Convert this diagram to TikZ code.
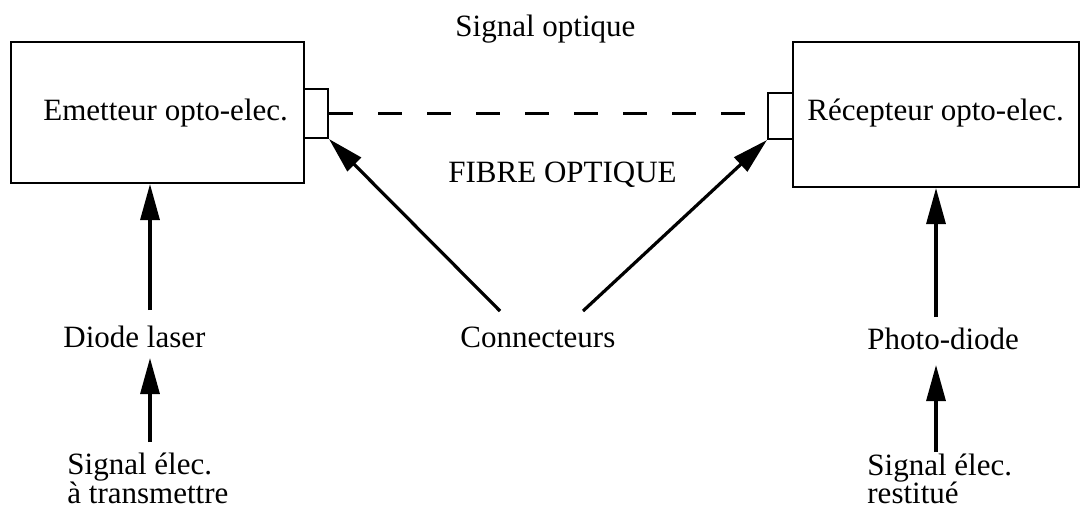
\documentclass[tikz,border=0pt]{standalone}
\usepackage{fontspec}
\setmainfont{Liberation Serif}
\usetikzlibrary{arrows.meta}
\begin{document}
\begin{tikzpicture}[x=0.5pt,y=-0.5pt,
  box/.style={draw,line width=1pt,inner sep=0pt,anchor=north west},
  arr/.style={line width=1.6pt,-{Triangle[length=18pt,width=9.5pt]}},
  fibre/.style={line width=1.1pt,dash pattern=on 12pt off 12.5pt},
  lbl/.style={inner sep=0pt,anchor=base west,font=\fontsize{15.5pt}{15pt}\selectfont}]
\useasboundingbox (0,0) rectangle (1080,510);
% boxes
\node[box,minimum width=146.5pt,minimum height=70.5pt] (emit) at (10,41) {};
\node[box,minimum width=143pt,minimum height=72.5pt] (rec) at (792,41) {};
\node[box,minimum width=12pt,minimum height=24.5pt] (cl) at (303,88) {};
\node[box,minimum width=12.5pt,minimum height=23pt] (cr) at (767,92) {};
% texts
\node[lbl] (so) at (455,36) {Signal optique};
\node[lbl] (fo) at (448,182) {FIBRE OPTIQUE};
\node[lbl] (et) at (43,120) {Emetteur opto-elec.};
\node[lbl] (rt) at (807,120) {Récepteur opto-elec.};
\node[lbl] (dl) at (63,347) {Diode laser};
\node[lbl] (cn) at (460,347) {Connecteurs};
\node[lbl] (pd) at (867,349) {Photo-diode};
\node[lbl] (s1) at (67,474) {Signal élec.};
\node[lbl] (s1b) at (67,503) {à transmettre};
\node[lbl] (s2) at (867,475) {Signal élec.};
\node[lbl] (s2b) at (867,503) {restitué};
% fibre
\draw[fibre] (cl.east) -- (cl.east -| cr.west);
% arrows
\coordinate (a1s) at (150,310);
\coordinate (a2s) at (150,442);
\coordinate (a2e) at (150,358);
\coordinate (a3s) at (936,317);
\coordinate (a4s) at (936,452);
\coordinate (a4e) at (936,365);
\coordinate (c1) at (500,311);
\coordinate (c2) at (583,311);
\draw[arr] (a1s) -- (a1s |- emit.south);
\draw[arr] (a2s) -- (a2e);
\draw[arr] (a3s) -- (a3s |- rec.south);
\draw[arr] (a4s) -- (a4e);
\draw[arr] (c1) -- (cl.south east);
\draw[arr] (c2) -- (cr.south west);
\end{tikzpicture}
\end{document}
